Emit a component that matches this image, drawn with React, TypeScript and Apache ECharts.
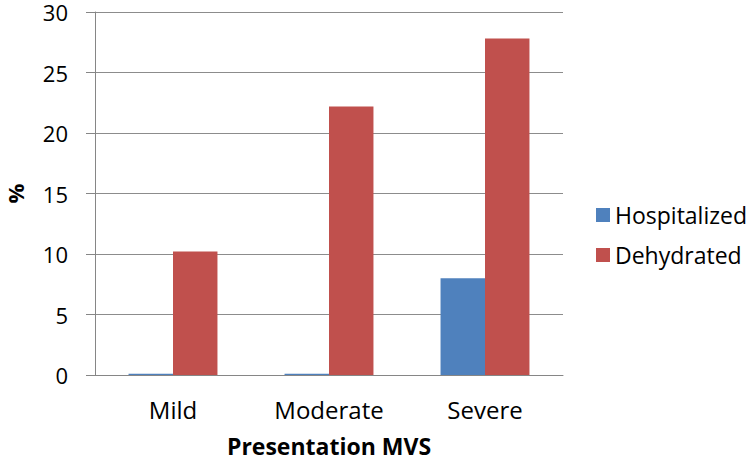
import React, { useEffect, useRef } from "react";
import * as echarts from "echarts";

const categories = ["Mild", "Moderate", "Severe"];
const hospitalized = [0.1, 0.1, 8.0];
const dehydrated = [10.2, 22.2, 27.8];
const yTicks = { min: 0, max: 30, interval: 5 };

const FONT = "Open Sans";

export default function App() {
  const ref = useRef<HTMLDivElement>(null);
  useEffect(() => {
    if (!ref.current) return;
    const chart = echarts.init(ref.current, null, { renderer: "svg" });
    chart.setOption({
      animation: false,
      textStyle: { fontFamily: FONT },
      grid: { left: 95, right: 187, top: 12, bottom: 85, containLabel: false, outerBoundsMode: "none" },
      legend: {
        orient: "vertical",
        left: 591,
        top: 195,
        itemWidth: 14,
        itemHeight: 14,
        itemGap: 10,
        icon: "rect",
        textStyle: { fontFamily: FONT, fontSize: 23, color: "#000", lineHeight: 30 },
        data: ["Hospitalized", "Dehydrated"],
      },
      xAxis: {
        type: "category",
        data: categories,
        name: "Presentation MVS",
        nameLocation: "middle",
        nameGap: 59,
        nameTextStyle: { fontFamily: FONT, fontSize: 23, fontWeight: "bold", color: "#000" },
        axisLine: { lineStyle: { color: "#868686", width: 1 } },
        axisTick: { show: false },
        axisLabel: { fontFamily: FONT, fontSize: 24, color: "#000", margin: 22 },
      },
      yAxis: {
        type: "value",
        min: yTicks.min,
        max: yTicks.max,
        interval: yTicks.interval,
        name: "%",
        nameLocation: "middle",
        nameGap: 69,
        nameTextStyle: { fontFamily: FONT, fontSize: 22, fontWeight: "bold", color: "#000" },
        axisLine: { show: true, lineStyle: { color: "#868686", width: 1 } },
        axisTick: { show: true, length: 9, inside: false, lineStyle: { color: "#868686" } },
        axisLabel: { fontFamily: FONT, fontSize: 22, color: "#000", margin: 27, lineHeight: 16 },
        splitLine: { lineStyle: { color: "#8c8c8c", width: 1 } },
      },
      series: [
        {
          name: "Hospitalized",
          type: "bar",
          data: hospitalized,
          barGap: "0%",
          barCategoryGap: "43%",
          itemStyle: { color: "#4F81BD" },
        },
        {
          name: "Dehydrated",
          type: "bar",
          data: dehydrated,
          barGap: "0%",
          barCategoryGap: "43%",
          itemStyle: { color: "#C0504D" },
        },
      ],
    });
    return () => chart.dispose();
  }, []);
  return <div ref={ref} style={{ width: 750, height: 460, position: "absolute", left: 0, top: 0, background: "#fff" }} />;
}
